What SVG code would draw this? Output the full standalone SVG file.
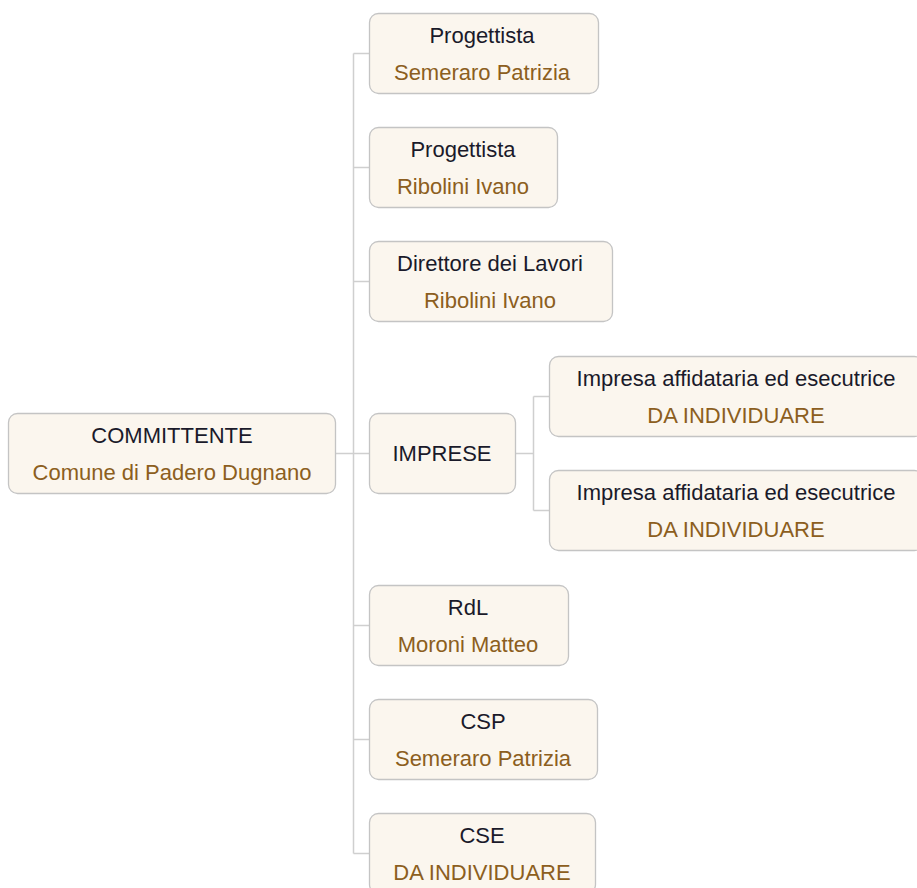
<svg xmlns="http://www.w3.org/2000/svg" width="917" height="888" viewBox="0 0 917 888">
<style>
.box{fill:#fbf6ee;stroke:#c4c4c4;stroke-width:1.3}
.t1{font-family:"Liberation Sans",Arial,sans-serif;font-size:22px;fill:#1a1a2a;text-anchor:middle}
.t2{font-family:"Liberation Sans",Arial,sans-serif;font-size:22px;fill:#8c5e20;text-anchor:middle}
.ln{stroke:#cfcfcf;stroke-width:1.5;fill:none}
</style>
<rect width="917" height="888" fill="#ffffff"/>
<g id="connectors" class="ln">
<path d="M335,453.5H369.5"/>
<path d="M353.5,53.5V853.5"/>
<path d="M353.5,53.5H369.5M353.5,167.5H369.5M353.5,281.5H369.5M353.5,625.5H369.5M353.5,739.5H369.5M353.5,853.5H369.5"/>
<path d="M515.5,453.5H533.5M533.5,396.5V510.5M533.5,396.5H549.5M533.5,510.5H549.5"/>
</g>
<g id="committente">
<rect class="box" x="8.5" y="413.5" width="327" height="80" rx="9"/>
<text class="t1" x="172" y="443">COMMITTENTE</text>
<text class="t2" x="172" y="480">Comune di Padero Dugnano</text>
</g>
<g id="progettista1">
<rect class="box" x="369.5" y="13.5" width="229" height="80" rx="9"/>
<text class="t1" x="482" y="43">Progettista</text>
<text class="t2" x="482" y="80">Semeraro Patrizia</text>
</g>
<g id="progettista2">
<rect class="box" x="369.5" y="127.5" width="188" height="80" rx="9"/>
<text class="t1" x="463" y="157">Progettista</text>
<text class="t2" x="463" y="194">Ribolini Ivano</text>
</g>
<g id="direttore">
<rect class="box" x="369.5" y="241.5" width="243" height="80" rx="9"/>
<text class="t1" x="490" y="271">Direttore dei Lavori</text>
<text class="t2" x="490" y="308">Ribolini Ivano</text>
</g>
<g id="imprese">
<rect class="box" x="369.5" y="413.5" width="146" height="80" rx="9"/>
<text class="t1" x="442" y="461">IMPRESE</text>
</g>
<g id="impresa1">
<rect class="box" x="549.5" y="356.5" width="374" height="80" rx="9"/>
<text class="t1" x="736" y="386">Impresa affidataria ed esecutrice</text>
<text class="t2" x="736" y="423">DA INDIVIDUARE</text>
</g>
<g id="impresa2">
<rect class="box" x="549.5" y="470.5" width="374" height="80" rx="9"/>
<text class="t1" x="736" y="500">Impresa affidataria ed esecutrice</text>
<text class="t2" x="736" y="537">DA INDIVIDUARE</text>
</g>
<g id="rdl">
<rect class="box" x="369.5" y="585.5" width="199" height="80" rx="9"/>
<text class="t1" x="468" y="615">RdL</text>
<text class="t2" x="468" y="652">Moroni Matteo</text>
</g>
<g id="csp">
<rect class="box" x="369.5" y="699.5" width="228" height="80" rx="9"/>
<text class="t1" x="483" y="729">CSP</text>
<text class="t2" x="483" y="766">Semeraro Patrizia</text>
</g>
<g id="cse">
<rect class="box" x="369.5" y="813.5" width="226" height="80" rx="9"/>
<text class="t1" x="482" y="843">CSE</text>
<text class="t2" x="482" y="880">DA INDIVIDUARE</text>
</g>
</svg>
